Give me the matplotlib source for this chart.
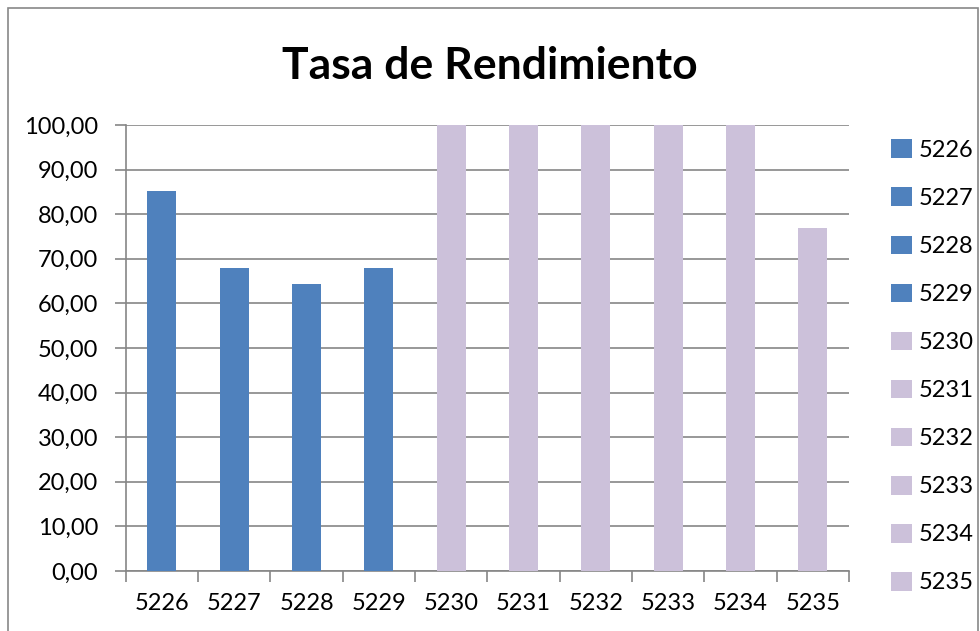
import matplotlib
matplotlib.use("Agg")
import matplotlib.pyplot as plt
from matplotlib.patches import Patch, Rectangle
from matplotlib.ticker import FuncFormatter, MultipleLocator

categories = ["5226", "5227", "5228", "5229", "5230", "5231", "5232", "5233", "5234", "5235"]
values = [85.3, 67.9, 64.3, 67.9, 100.0, 100.0, 100.0, 100.0, 100.0, 77.0]
colors = ["#4F81BD"] * 4 + ["#CCC1DA"] * 6
title = "Tasa de Rendimiento"

plt.rcParams['font.family'] = ['Lato', 'DejaVu Sans']

fig = plt.figure(figsize=(9.8, 6.31), dpi=100)
fig.patches.append(Rectangle((8/980, -0.05), (978-8)/980, 1 - 8/631 + 0.05,
                             transform=fig.transFigure, fill=False,
                             edgecolor="#888888", linewidth=1.2))
ax = fig.add_axes([125.7/980, 1 - 571/631, (849 - 125.7)/980, (571 - 125)/631])

x = list(range(len(categories)))
handles = []
for i, (c, v, col) in enumerate(zip(categories, values, colors)):
    ax.bar(i, v, width=0.4, color=col, zorder=3)
    handles.append(Patch(facecolor=col, edgecolor='none', label=c))

ax.set_xlim(-0.5, len(categories) - 0.5)
ax.set_ylim(0, 100)
ax.yaxis.set_major_locator(MultipleLocator(10))
ax.yaxis.set_major_formatter(FuncFormatter(lambda v, p: f"{v:.2f}".replace(".", ",")))
ax.set_xticks([i - 0.5 for i in range(len(categories) + 1)])
ax.set_xticklabels([])
ax.set_xticks(x, minor=True)
ax.set_xticklabels(categories, minor=True)
ax.tick_params(axis='x', which='minor', length=0, pad=16, labelsize=17)
ax.tick_params(axis='x', which='major', length=8, width=1.2, color="#868686")
ax.tick_params(axis='y', length=8, width=1.2, color="#868686", labelsize=17, pad=12)
ax.grid(axis='y', color="#868686", linewidth=1.2, zorder=0)
for s in ['top', 'right']:
    ax.spines[s].set_visible(False)
for s in ['left', 'bottom']:
    ax.spines[s].set_color("#868686")
    ax.spines[s].set_linewidth(1.2)

fig.text(0.5, 1 - 66/631, title, ha='center', va='center', fontsize=32, fontweight='bold')

fig.legend(handles=handles, loc='upper left', bbox_to_anchor=(882/980, 1 - 130/631),
           frameon=False, fontsize=17, handlelength=0.85, handleheight=0.85,
           handletextpad=0.3, labelspacing=1.12, borderaxespad=0)

fig.savefig("out.png", dpi=100)
